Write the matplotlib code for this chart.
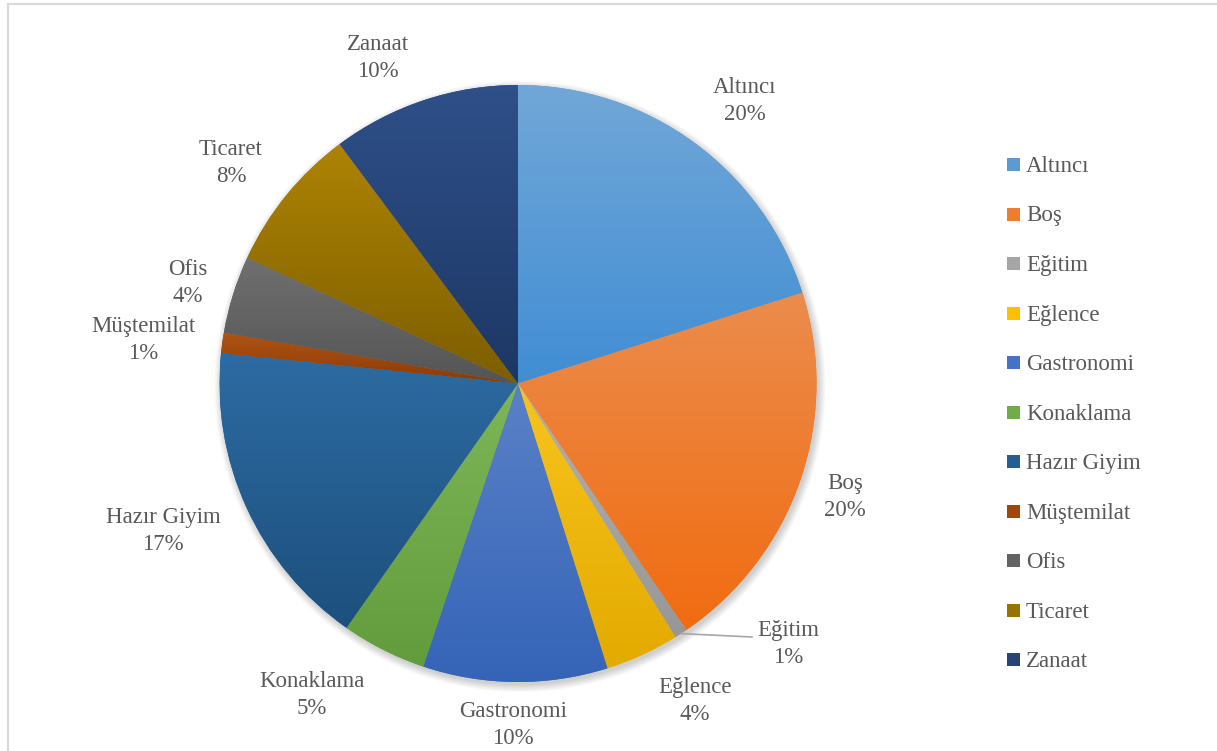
import colorsys
import numpy as np
import matplotlib
matplotlib.use('Agg')
import matplotlib.pyplot as plt
from matplotlib.colors import to_rgb
from matplotlib.patches import Rectangle, Circle

# data
categories = ['Altıncı', 'Boş', 'Eğitim', 'Eğlence', 'Gastronomi', 'Konaklama',
              'Hazır Giyim', 'Müştemilat', 'Ofis', 'Ticaret', 'Zanaat']
shares = [20.1, 20.4, 0.7, 4.0, 10.0, 4.6, 16.9, 1.1, 4.2, 7.9, 10.2]
colors = ['#5B9BD5', '#ED7D31', '#A5A5A5', '#FFC000', '#4472C4', '#70AD47',
          '#255E91', '#9E480E', '#636363', '#997300', '#264478']

# label centres in pixels (x, y measured from the top)
label_pos = [(745, 101), (845, 497), (788, 644), (695, 701), (513, 725), (312, 695),
             (163, 531), (143, 340), (188, 283), (231, 163), (378, 58)]

W, H = 1217, 751
cx, cy, R = 518, 383.5, 298.5
TXT = '#595959'
FS = 16.5
plt.rcParams['font.family'] = ['Liberation Serif', 'DejaVu Serif']

fig = plt.figure(figsize=(W / 100, H / 100), dpi=100)
ax = fig.add_axes([0, 0, 1, 1])


def shade(c, dl, smul):
    # shift lightness and scale saturation, like Excel's gradient stops
    h, l, s = colorsys.rgb_to_hls(*to_rgb(c))
    l = min(max(l + dl, 0), 1)
    s = min(s * smul, 1)
    return np.array(colorsys.hls_to_rgb(h, l, s))


# soft shadow under the pie
for k in range(8):
    ax.add_patch(Circle((cx + 2, H - cy - 3), R + 7 - k, color='black',
                        alpha=0.025, lw=0, zorder=0))

wedges, _ = ax.pie(shares, colors=colors, startangle=90, counterclock=False,
                   center=(cx, H - cy), radius=R,
                   wedgeprops=dict(linewidth=0, zorder=1))

# vertical gradient inside each slice
t = np.linspace(0, 1, 256)[:, None]
for w, c in zip(wedges, colors):
    x0, y0, x1, y1 = w.get_path().get_extents().extents
    top = shade(c, 0.05, 0.95)
    bot = shade(c, -0.055, 1.06)
    grad = (top[None, :] * (1 - t) + bot[None, :] * t)[:, None, :]
    im = ax.imshow(np.clip(grad, 0, 1), extent=[x0, x1, y0, y1], origin='upper',
                   aspect='auto', interpolation='bilinear', zorder=2)
    im.set_clip_path(w)

# data labels
total = sum(shares)
for name, v, (lx, ly) in zip(categories, shares, label_pos):
    ax.text(lx, H - ly, f'{name}\n{round(v / total * 100)}%', ha='center', va='center',
            fontsize=FS, color=TXT, linespacing=1.32, zorder=5)

# leader line for the small slice
w = wedges[2]
mid = np.deg2rad((w.theta1 + w.theta2) / 2)
sx, sy = cx + R * np.cos(mid), (H - cy) + R * np.sin(mid)
ax.plot([sx, 752], [sy, H - 637], color='#A6A6A6', lw=1.2, zorder=3)

# legend
for i, (name, c) in enumerate(zip(categories, colors)):
    base = 172 + 49.5 * i
    ax.add_patch(Rectangle((1007, H - base + 1), 13, 13, color=c, lw=0, zorder=4))
    ax.text(1026, H - base, name, ha='left', va='baseline', fontsize=FS, color=TXT)

# chart border
ax.add_patch(Rectangle((8, -20), 1300, H - 4 + 20, fill=False, ec='#D9D9D9', lw=1.5))

ax.set_xlim(0, W)
ax.set_ylim(0, H)
ax.axis('off')
fig.savefig('out.png', dpi=100)
